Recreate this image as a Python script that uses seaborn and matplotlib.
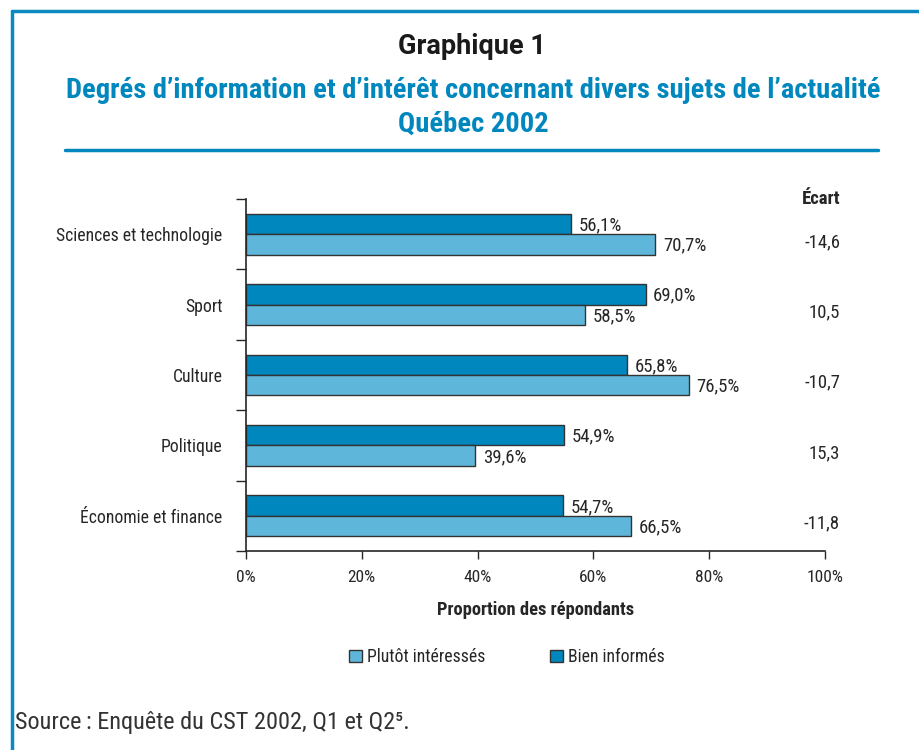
import numpy as np
import pandas as pd
import matplotlib.pyplot as plt
import seaborn as sns
from matplotlib.patches import Patch
from matplotlib.lines import Line2D
from matplotlib import font_manager

sns.set_theme(style="white")
names = {f.name for f in font_manager.fontManager.ttflist}
cond = [n for n in ['Roboto Condensed', 'DejaVu Sans Condensed', 'Liberation Sans Narrow'] if n in names]
plt.rcParams['font.family'] = cond + ['Roboto', 'DejaVu Sans']
plt.rcParams['font.stretch'] = 'condensed'

# --- data ---
categories = ["Sciences et technologie", "Sport", "Culture", "Politique", "Économie et finance"]
bien_informes = [56.1, 69.0, 65.8, 54.9, 54.7]
plutot_interesses = [70.7, 58.5, 76.5, 39.6, 66.5]
ecarts = ["-14,6", "10,5", "-10,7", "15,3", "-11,8"]
x_ticks = [0, 20, 40, 60, 80, 100]

dark = "#0087BD"
light = "#5EB7DA"
frame_blue = "#0A8AC0"
ink = "#262626"

df = pd.DataFrame({
    "sujet": categories * 2,
    "valeur": bien_informes + plutot_interesses,
    "serie": ["Bien informés"] * 5 + ["Plutôt intéressés"] * 5,
})

fig = plt.figure(figsize=(9.19, 7.5), dpi=100)
ax = fig.add_axes([246 / 919, 1 - 551 / 750, (825 - 246) / 919, (551 - 199) / 750])

sns.barplot(data=df, y="sujet", x="valeur", hue="serie", orient="h",
            order=categories, hue_order=["Bien informés", "Plutôt intéressés"],
            palette=[dark, light], width=0.58, gap=0, edgecolor="#333333",
            linewidth=1.0, saturation=1, ax=ax, legend=False)

# value labels
for cont in ax.containers:
    for bar in cont:
        w = bar.get_width()
        ax.text(w + 1.3, bar.get_y() + bar.get_height() / 2 + 0.02,
                f"{w:.1f}%".replace(".", ","), va="center", ha="left",
                fontsize=13.5, color=ink)

ax.set_xlim(0, 100)
ax.set_ylim(4.5, -0.5)
ax.set_xticks(x_ticks)
ax.set_xticklabels([f"{t}%" for t in x_ticks], fontsize=12.5, color=ink)
ax.set_yticks(range(len(categories)))
ax.set_yticklabels(categories, fontsize=12.7, color=ink)
ax.set_yticks(np.arange(-0.5, 5, 1), minor=True)
ax.tick_params(axis="y", which="major", length=0, pad=17)
ax.tick_params(axis="y", which="minor", length=7, width=1, color=ink, direction="out", left=True)
ax.tick_params(axis="x", length=6, width=1, color=ink, direction="out", bottom=True, pad=8)
ax.set_ylabel("")
ax.set_xlabel("Proportion des répondants", fontsize=13.3, fontweight="bold", labelpad=11, color=ink)
for s in ["top", "right"]:
    ax.spines[s].set_visible(False)
for s in ["left", "bottom"]:
    ax.spines[s].set_color(ink)
    ax.spines[s].set_linewidth(1.2)

# Écart column
ax.text(102.6, -0.5, "Écart", ha="right", va="center", fontsize=13.5,
        fontweight="bold", color=ink, clip_on=False)
for i, e in enumerate(ecarts):
    ax.text(102.6, i + 0.11, e, ha="right", va="center", fontsize=13.5,
            color=ink, clip_on=False)

# legend
handles = [Patch(facecolor=light, edgecolor="#333333", label="Plutôt intéressés"),
           Patch(facecolor=dark, edgecolor="#333333", label="Bien informés")]
fig.legend(handles=handles, loc="center", bbox_to_anchor=(507 / 919, 1 - 657 / 750),
           ncol=2, frameon=False, fontsize=12.7, handlelength=0.7, handleheight=0.7,
           handletextpad=0.3, columnspacing=3.7)

# titles
fig.text(472 / 919, 1 - 46 / 750, "Graphique 1", ha="center", va="center",
         fontsize=19.5, fontweight="bold", color="#1a1a1a",
         family=['Roboto', 'DejaVu Sans'], stretch='normal')
fig.text(473 / 919, 1 - 90 / 750,
         "Degrés d’information et d’intérêt concernant divers sujets de l’actualité",
         ha="center", va="center", fontsize=20.5, fontweight="bold", color=dark)
fig.text(473 / 919, 1 - 124 / 750, "Québec 2002", ha="center", va="center",
         fontsize=20.5, fontweight="bold", color=dark)

# rules and frame
fig.add_artist(Line2D([65 / 919, 878 / 919], [1 - 150 / 750] * 2, color=dark, lw=2.5))
fig.add_artist(Line2D([12 / 919, 1.0], [1 - 11 / 750] * 2, color=frame_blue, lw=2.5))
fig.add_artist(Line2D([12 / 919] * 2, [0.0, 1 - 11 / 750], color=frame_blue, lw=2.5))

fig.text(15 / 919, 1 - 723 / 750, "Source\u2009: Enquête du CST 2002, Q1 et Q2⁵.",
         ha="left", va="center", fontsize=17.5, color="#333333")

fig.savefig("out.png", dpi=100)
